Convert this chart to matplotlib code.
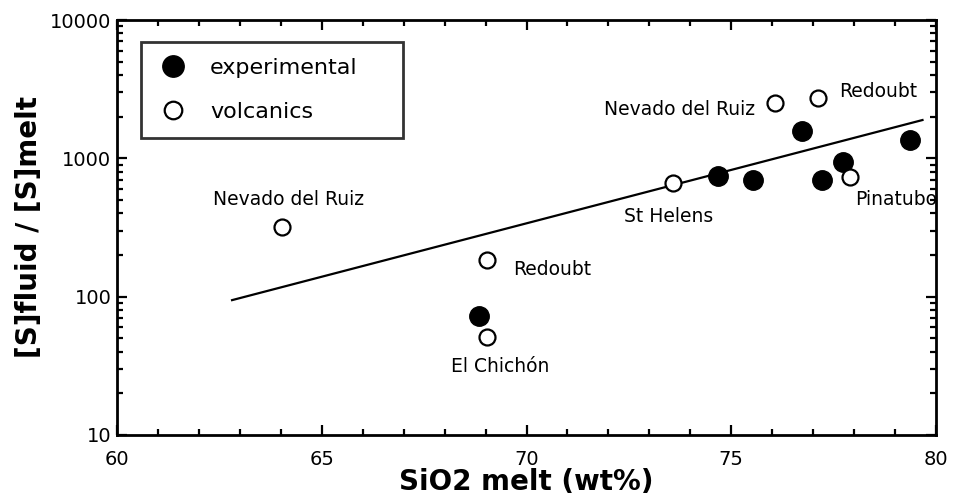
import numpy as np
import matplotlib
matplotlib.use('Agg')
import matplotlib.pyplot as plt
from matplotlib.ticker import MultipleLocator, LogLocator, NullFormatter

# experimental runs (filled)
exp_sio2 = [68.84, 74.67, 75.52, 76.72, 77.21, 77.72, 79.36]
exp_ratio = [72, 745, 697, 1585, 697, 944, 1356]

# volcanic estimates (open)
volc_sio2 = [64.02, 69.04, 69.04, 73.58, 76.07, 77.13, 77.90]
volc_ratio = [321, 184, 51, 659, 2522, 2717, 736]

# regression line end points
fit_sio2 = [62.81, 79.67]
fit_ratio = [94.4, 1892]

# labels: text, x, y, ha
labels = [
    ('Nevado del Ruiz', 64.2, 508, 'center'),
    ('Redoubt', 69.67, 156, 'left'),
    ('El Chichón', 69.35, 31.5, 'center'),
    ('St Helens', 73.46, 378, 'center'),
    ('Nevado del Ruiz', 75.58, 2270, 'right'),
    ('Redoubt', 77.63, 3034, 'left'),
    ('Pinatubo', 78.02, 508, 'left'),
]

fig = plt.figure(figsize=(9.56, 5.01), dpi=100)
ax = fig.add_axes([117/956, 1-435/501, 819/956, 415/501])

ax.plot(fit_sio2, fit_ratio, color='black', lw=1.6, zorder=1)
ax.plot(exp_sio2, exp_ratio, 'o', color='black', ms=14, ls='none',
        label='experimental', zorder=3)
ax.plot(volc_sio2, volc_ratio, 'o', mfc='white', mec='black', mew=1.6,
        ms=11.5, ls='none', label='volcanics', zorder=4)

for txt, x, y, ha in labels:
    ax.text(x, y, txt, ha=ha, va='center', fontsize=13.5)

ax.set_yscale('log')
ax.set_xlim(60, 80)
ax.set_ylim(10, 10000)
ax.xaxis.set_major_locator(MultipleLocator(5))
ax.xaxis.set_minor_locator(MultipleLocator(1))
ax.yaxis.set_minor_locator(LogLocator(base=10, subs=np.arange(2, 10)))
ax.yaxis.set_minor_formatter(NullFormatter())
ax.set_yticks([10, 100, 1000, 10000])
ax.set_yticklabels(['10', '100', '1000', '10000'])

ax.tick_params(which='both', direction='in', top=True, right=True,
               width=1.6, labelsize=14)
ax.tick_params(axis='x', which='both', pad=11)
ax.tick_params(axis='y', which='both', pad=4)
ax.tick_params(which='major', length=7)
ax.tick_params(which='minor', length=4)
for sp in ax.spines.values():
    sp.set_linewidth(2)

ax.set_xlabel('SiO2 melt (wt%)', fontsize=20, fontweight='bold', labelpad=-1)
ax.set_ylabel('[S]fluid / [S]melt', fontsize=20, fontweight='bold', labelpad=5)

leg = ax.legend(loc='upper left', bbox_to_anchor=(24/819, 1-116/415, 262/819, 94/415),
                mode='expand', fontsize=16, frameon=True, fancybox=False,
                borderpad=0.7, labelspacing=1.1, handletextpad=0.9,
                borderaxespad=0, handlelength=1.5, markerscale=1.1)
leg.get_frame().set_edgecolor('black')
leg.get_frame().set_linewidth(2)

fig.savefig('out.png', dpi=100)
